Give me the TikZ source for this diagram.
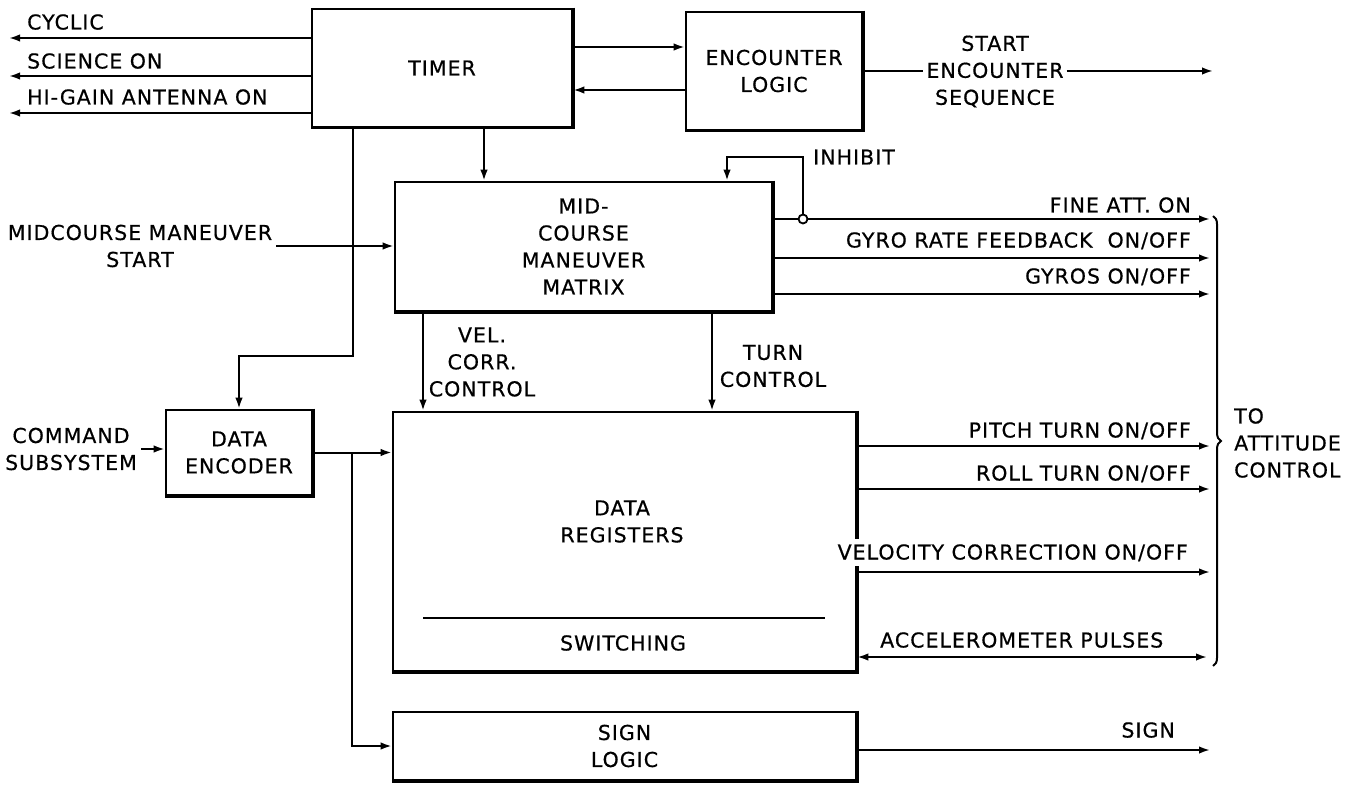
\documentclass[tikz,border=0pt]{standalone}
\usepackage{fontspec}
\setmainfont[LetterSpace=5,FakeBold=0.6]{DejaVu Sans}
\usetikzlibrary{arrows.meta,decorations.pathreplacing}
\begin{document}
\begin{tikzpicture}[x=1pt,y=-1pt,
  every node/.style={font=\fontsize{20.5}{27}\selectfont},
  blk/.style={draw,line width=2.6pt,inner sep=0pt,align=center},
  lbl/.style={inner sep=0pt},
  conn/.style={line width=2pt},
  arr/.style={conn,-{Latex[length=11pt,width=7.5pt]}},
  darr/.style={conn,{Latex[length=11pt,width=7.5pt]}-{Latex[length=11pt,width=7.5pt]}},
  heavy/.style={line width=1.8pt},
]
\useasboundingbox (0,0) rectangle (1356,786);

% blocks
\node[blk,minimum width=260pt,minimum height=118pt] (timer) at (442,68) {TIMER};
\node[blk,minimum width=176pt,minimum height=118pt] (enc) at (774,71) {ENCOUNTER\\LOGIC};
\node[blk,minimum width=377pt,minimum height=129pt] (mid) at (583.5,246.5) {MID-\\COURSE\\MANEUVER\\MATRIX};
\node[blk,minimum width=146pt,minimum height=85pt] (de) at (239,452.5) {DATA\\ENCODER};
\node[blk,minimum width=463pt,minimum height=259pt] (dr) at (624.5,541.5) {};
\node[blk,minimum width=463pt,minimum height=68pt] (sign) at (624.5,746) {SIGN\\LOGIC};
% heavier right and bottom edges
\foreach \b in {timer,enc,mid,de,dr,sign}
  \draw[heavy] ([xshift=0.3pt]\b.north east) -- ([xshift=0.3pt,yshift=-0.3pt]\b.south east) -- ([yshift=-0.3pt]\b.south west);
\node[lbl,align=center] (drt) at (622,521.5) {DATA\\REGISTERS};
\node[lbl] (swt) at (623,643) {SWITCHING};
\draw[line width=2.4pt] (423,618) -- (825,618);

% helper coordinates
\coordinate (oCyc) at (9,38);
\coordinate (oSci) at (9,76);
\coordinate (oHg) at (9,113);
\coordinate (yA) at (0,47);
\coordinate (yB) at (0,90);
\coordinate (oSeq) at (1213,71);
\coordinate (xTM) at (484,0);
\coordinate (cT) at (353,356);
\coordinate (br) at (352,0);
\coordinate (xV) at (423,0);
\coordinate (xTu) at (712,0);
\coordinate (inhc) at (803,219);
\coordinate (inhTR) at (803,157);
\coordinate (inhTL) at (727,157);
\coordinate (oFA) at (1210,219);
\coordinate (oGR) at (1210,258);
\coordinate (oGY) at (1210,294);
\coordinate (oPT) at (1210,446);
\coordinate (oRT) at (1210,489);
\coordinate (oVC) at (1210,572);
\coordinate (oAP) at (1207,657);
\coordinate (oS) at (1210,750);
\coordinate (brT) at (1213,216);
\coordinate (brB) at (1213,666);

% timer outputs left
\draw[arr] (timer.west |- oCyc) -- (oCyc);
\draw[arr] (timer.west |- oSci) -- (oSci);
\draw[arr] (timer.west |- oHg) -- (oHg);
\node[lbl,anchor=base west] (lcyc) at (27,29.5) {CYCLIC};
\node[lbl,anchor=base west] (lsci) at (27,68.5) {SCIENCE ON};
\node[lbl,anchor=base west] (lhg) at (27,104.5) {HI-GAIN ANTENNA ON};

% timer <-> encounter
\draw[arr] (timer.east |- yA) -- (enc.west |- yA);
\draw[arr] (enc.west |- yB) -- (timer.east |- yB);

% encounter output
\node[lbl,align=center,inner xsep=3pt] (lseq) at (995,71.5) {START\\ENCOUNTER\\SEQUENCE};
\draw[conn] (enc.east) -- (enc.east -| lseq.west);
\draw[arr] (lseq.east |- enc.east) -- (oSeq);

% timer -> mid, timer -> data encoder
\draw[arr] (timer.south -| xTM) -- (mid.north -| xTM);
\draw[arr] (timer.south -| cT) -- (cT) -- (cT -| de.north) -- (de.north);

% midcourse start
\node[lbl,align=center] (lmcm) at (140,246) {MIDCOURSE MANEUVER\\START};
\draw[arr] ([xshift=4pt]lmcm.east) -- (lmcm.east -| mid.west);

% command subsystem
\node[lbl,align=center] (lcmd) at (71,449) {COMMAND\\SUBSYSTEM};
\draw[arr] ([xshift=4pt]lcmd.east) -- (lcmd.east -| de.west);

% data encoder -> registers, sign logic
\draw[arr] (de.east) -- (de.east -| dr.west);
\draw[arr] (de.east -| br) -- (br |- sign.west) -- (sign.west);

% mid -> registers
\draw[arr] (mid.south -| xV) -- (dr.north -| xV);
\node[lbl,align=center] (lvc) at (482,362) {VEL.\\CORR.\\CONTROL};
\draw[arr] (mid.south -| xTu) -- (dr.north -| xTu);
\node[lbl,align=center] (ltc) at (773,366) {TURN\\CONTROL};

% mid outputs
\draw[arr] (mid.east |- inhc) -- (oFA);
\draw[arr] (mid.east |- oGR) -- (oGR);
\draw[arr] (mid.east |- oGY) -- (oGY);
\node[draw,circle,fill=white,inner sep=0pt,minimum size=9pt,line width=1.8pt] (inh) at (inhc) {};
\draw[arr] (inh.north) -- (inhTR) -- (inhTL) -- (inhTL |- mid.north);
\node[lbl,anchor=base west] (linh) at (813,164.5) {INHIBIT};
\node[lbl,anchor=base east] (lfa) at (1191,212.5) {FINE ATT. ON};
\node[lbl,anchor=base east] (lgr) at (1191,247.5) {GYRO RATE FEEDBACK\ \ ON/OFF};
\node[lbl,anchor=base east] (lgy) at (1191,283.5) {GYROS ON/OFF};

% registers outputs
\draw[arr] (dr.east |- oPT) -- (oPT);
\draw[arr] (dr.east |- oRT) -- (oRT);
\draw[arr] (dr.east |- oVC) -- (oVC);
\draw[darr] (dr.east |- oAP) -- (oAP);
\node[lbl,anchor=base east] (lpt) at (1191,437.5) {PITCH TURN ON/OFF};
\node[lbl,anchor=base east] (lrt) at (1191,480.5) {ROLL TURN ON/OFF};
\node[lbl,anchor=base east,fill=white,inner ysep=5pt] (lvco) at (1188,559.5) {VELOCITY CORRECTION ON/OFF};
\node[lbl,anchor=base west] (lap) at (880,647.5) {ACCELEROMETER PULSES};

% sign output
\draw[arr] (sign.east |- oS) -- (oS);
\node[lbl,anchor=base east] (lsg) at (1175,737.5) {SIGN};

% brace and destination
\draw[conn,decorate,decoration={brace,amplitude=8pt}] (brT) -- (brB);
\node[lbl,align=left,anchor=west] (lto) at (1234,443) {TO\\ATTITUDE\\CONTROL};
\end{tikzpicture}
\end{document}
